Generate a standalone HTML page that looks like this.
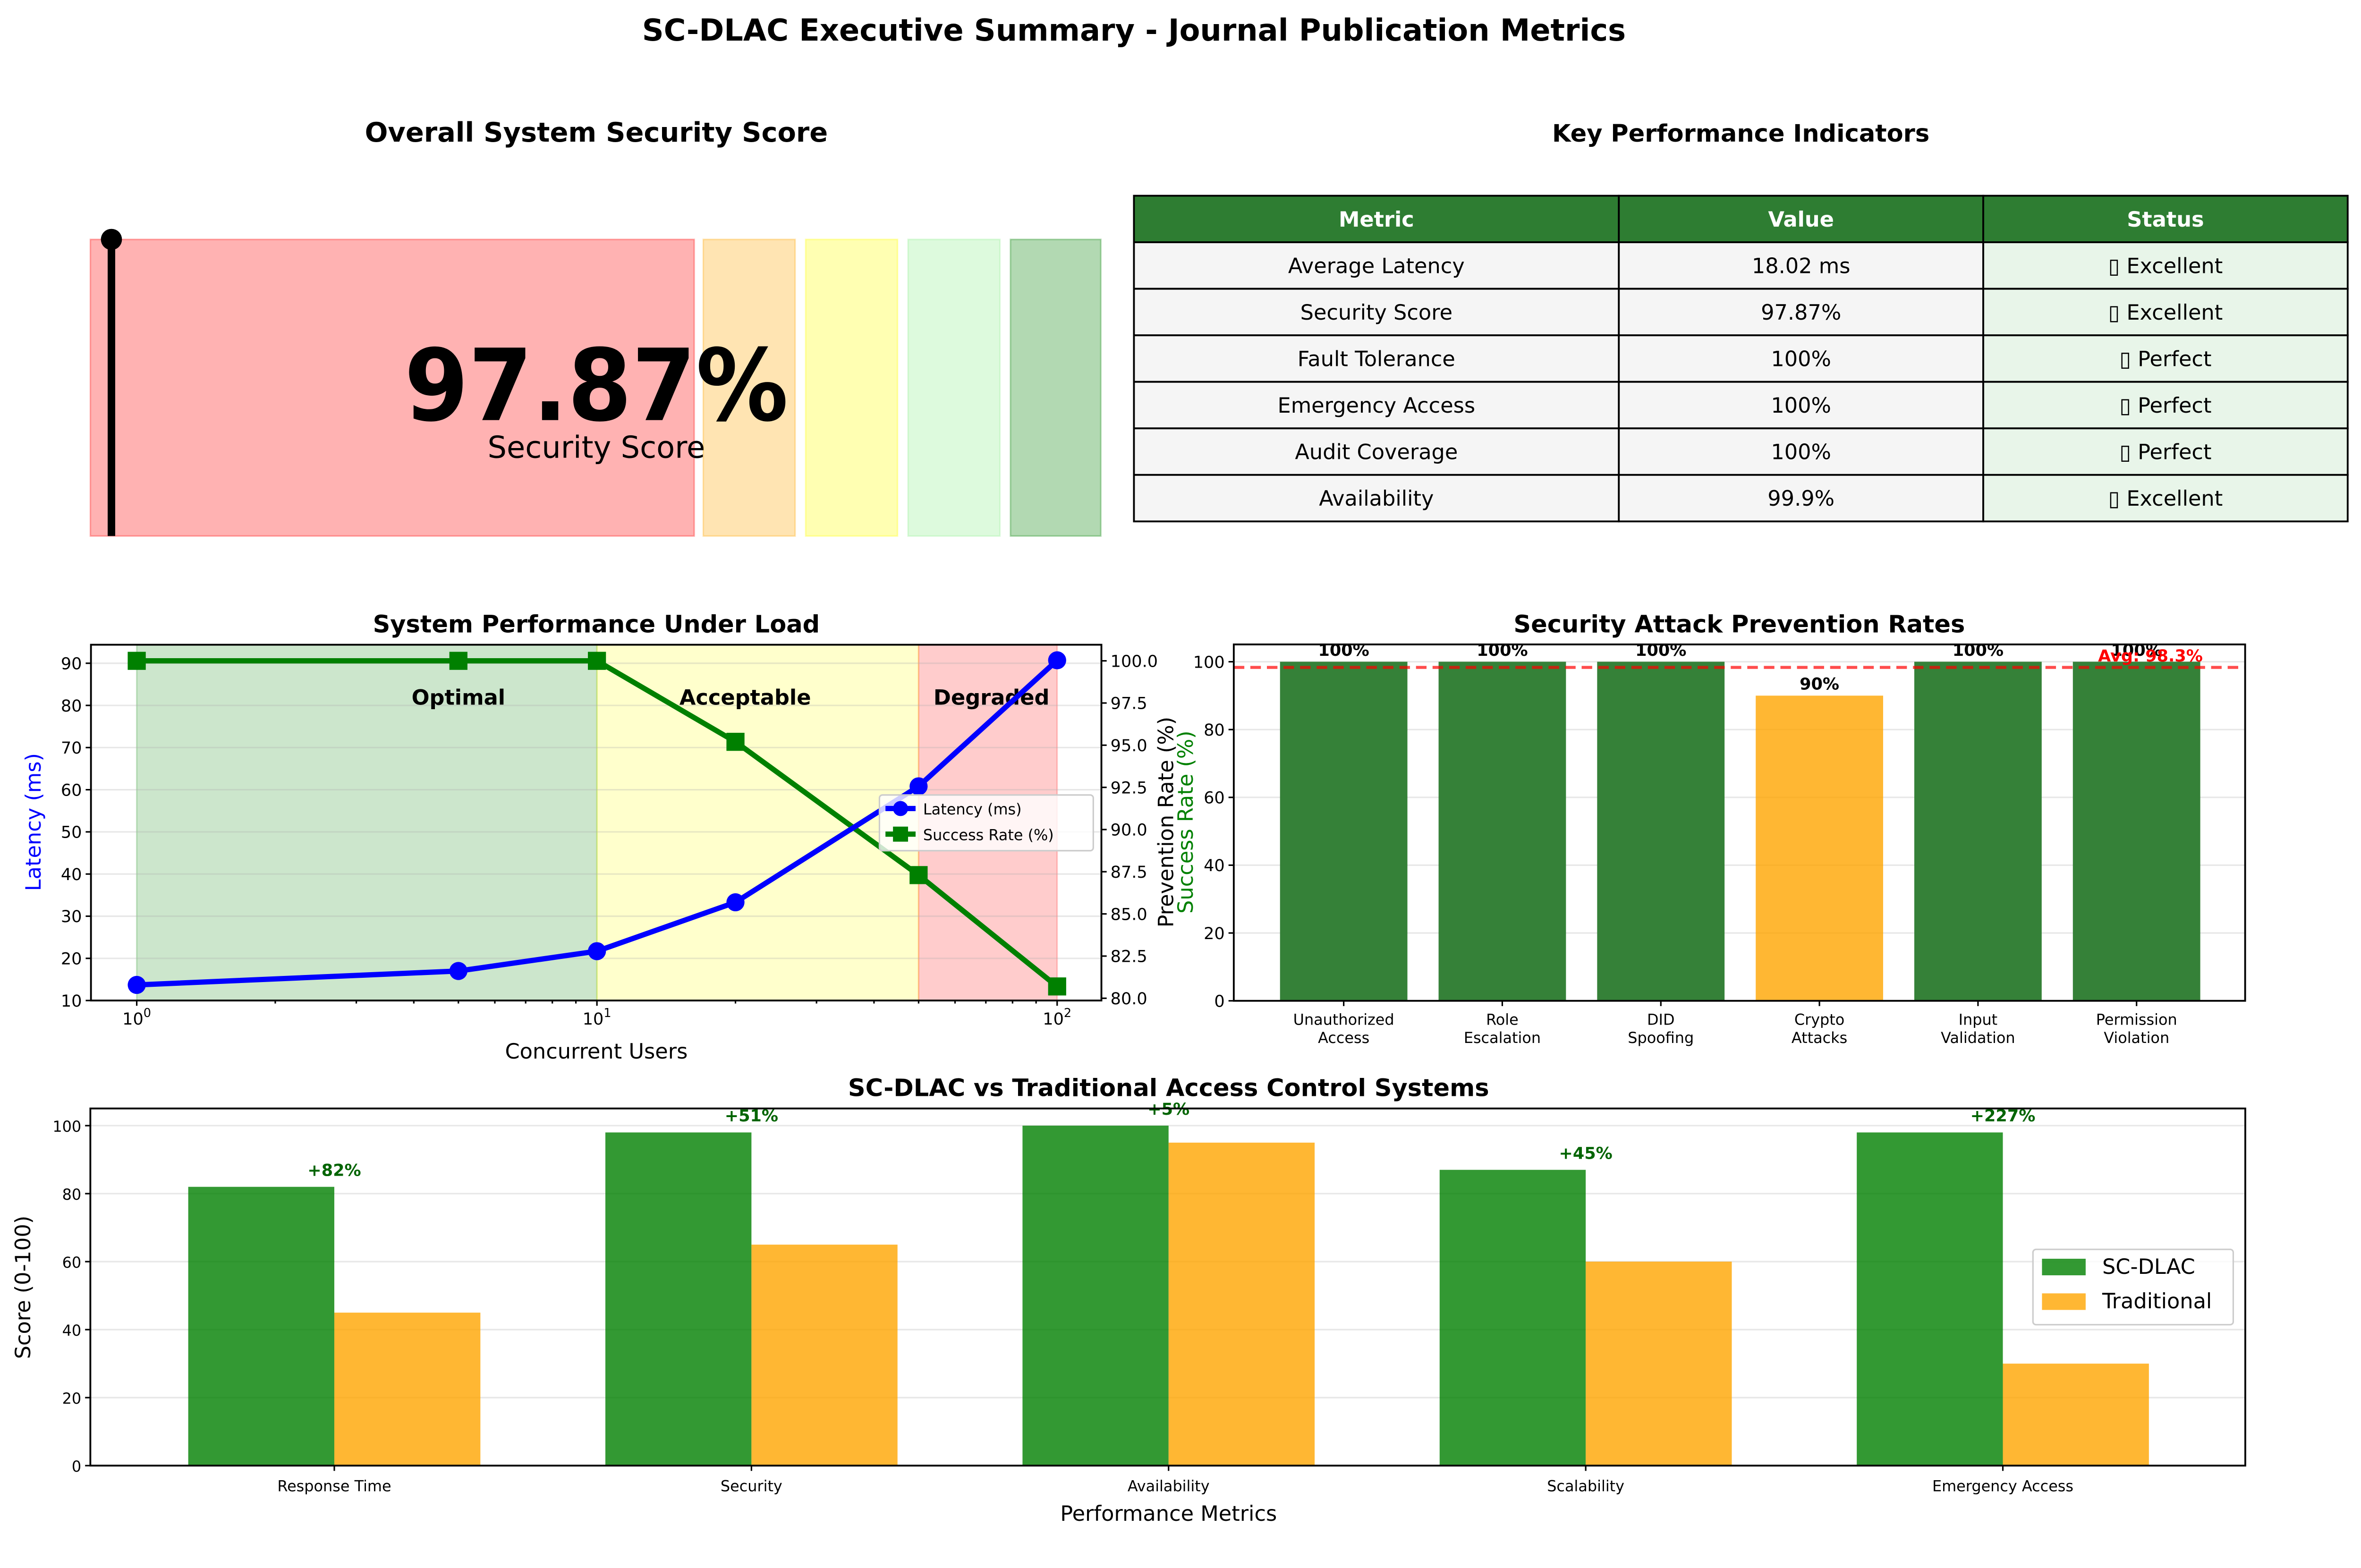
<!DOCTYPE html>
<html><head><meta charset="utf-8">
<style>
html,body{margin:0;padding:0;background:#fff;}
svg{display:block;font-family:"DejaVu Sans","Liberation Sans",sans-serif;}
</style></head>
<body>
<svg id="fig" width="5093" height="3321" viewBox="0 0 1597 1041.4" preserveAspectRatio="none" xmlns="http://www.w3.org/2000/svg">
<rect width="1597" height="1041.4" fill="#fff"/>
<text x="753" y="27" text-anchor="middle" font-size="20" font-weight="bold">SC-DLAC Executive Summary - Journal Publication Metrics</text>

<g>
<text x="396" y="94" text-anchor="middle" font-size="18" font-weight="bold">Overall System Security Score</text>
<rect x="60" y="159" width="401" height="197" fill="#ff0000" fill-opacity="0.3" stroke="#ff0000" stroke-opacity="0.3"/>
<rect x="467" y="159" width="61" height="197" fill="#ffa500" fill-opacity="0.3" stroke="#ffa500" stroke-opacity="0.3"/>
<rect x="535" y="159" width="61" height="197" fill="#ffff00" fill-opacity="0.3" stroke="#ffff00" stroke-opacity="0.3"/>
<rect x="603" y="159" width="61" height="197" fill="#90ee90" fill-opacity="0.3" stroke="#90ee90" stroke-opacity="0.3"/>
<rect x="671" y="159" width="60" height="197" fill="#008000" fill-opacity="0.3" stroke="#008000" stroke-opacity="0.3"/>
<line x1="74" y1="159" x2="74" y2="356" stroke="#000" stroke-width="5"/>
<circle cx="74" cy="159" r="7" fill="#000"/>
<text x="396" y="304" text-anchor="middle" font-size="66" font-weight="bold" textLength="255" lengthAdjust="spacingAndGlyphs" dy="-25">97.87%</text>
<text x="396" y="304" text-anchor="middle" font-size="20">Security Score</text>
</g>

<g id="kpi">
<text x="1156" y="94" text-anchor="middle" font-size="16" font-weight="bold">Key Performance Indicators</text>
</g>

<g id="perf"></g>
<g id="sec"></g>
<g id="cmp"></g>
</svg>
<script>
const kpiMetrics = ["Average Latency","Security Score","Fault Tolerance","Emergency Access","Audit Coverage","Availability"];
const kpiValues = ["18.02 ms","97.87%","100%","100%","100%","99.9%"];
const kpiStatus = ["Excellent","Excellent","Perfect","Perfect","Perfect","Excellent"];

const users = [1,5,10,20,50,100];
const latency = [13.7,17.0,21.7,33.3,60.8,90.7];
const successRate = [100,100,100,95.2,87.3,80.7];
const latencyTicks = [10,20,30,40,50,60,70,80,90];
const successTicks = [80.0,82.5,85.0,87.5,90.0,92.5,95.0,97.5,100.0];

const attackCats = [["Unauthorized","Access"],["Role","Escalation"],["DID","Spoofing"],["Crypto","Attacks"],["Input","Validation"],["Permission","Violation"]];
const preventionRates = [100,100,100,90,100,100];
const preventionTicks = [0,20,40,60,80,100];

const cmpCats = ["Response Time","Security","Availability","Scalability","Emergency Access"];
const scdlac = [82,98,100,87,98];
const traditional = [45,65,95,60,30];
const cmpLabels = ["+82%","+51%","+5%","+45%","+227%"];
const cmpTicks = [0,20,40,60,80,100];

const NS="http://www.w3.org/2000/svg";
function mk(parent,tag,attrs,text){const e=document.createElementNS(NS,tag);for(const k in attrs)e.setAttribute(k,attrs[k]);if(text!==undefined)e.textContent=text;parent.appendChild(e);return e;}

(function(){
 const g=document.getElementById('kpi');
 const cols=[753,1075,1317,1559]; const top=130, rh=30.9;
 const hdr=["Metric","Value","Status"];
 for(let c=0;c<3;c++){
  const r=mk(g,'rect',{x:cols[c],y:top,width:cols[c+1]-cols[c],height:rh,fill:'#2e7d32',stroke:'#000','stroke-width':1.2});
  
  
  const t=mk(g,'text',{x:(cols[c]+cols[c+1])/2,y:top+rh/2+5,'text-anchor':'middle','font-size':14,'font-weight':'bold',fill:'#fff'},hdr[c]);
  
  
 }
 for(let i=0;i<kpiMetrics.length;i++){
  const y=top+rh*(i+1);
  const vals=[kpiMetrics[i],kpiValues[i],"\u25AF "+kpiStatus[i]];
  for(let c=0;c<3;c++){
   const r=mk(g,'rect',{x:cols[c],y:y,width:cols[c+1]-cols[c],height:rh,fill:c==2?'#e8f5e9':'#f5f5f5',stroke:'#000','stroke-width':1.2});
   
   
   const t=mk(g,'text',{x:(cols[c]+cols[c+1])/2,y:y+rh/2+5,'text-anchor':'middle','font-size':14},vals[c]);
   
   
  }
 }
})();

(function(){
 const g=document.getElementById('perf');
 const L=60.4,R=731.4,T=428.2,B=664.5;
 const x=v=>90.8+(Math.log10(v))*(702-90.8)/2;
 const yl=v=>664.5-(v-10)*(664.5-440.5)/80;
 const yr=v=>663-(v-80)*(663-438.9)/20;
 const t=mk(g,'text',{x:396,y:420,'text-anchor':'middle','font-size':16,'font-weight':'bold'},'System Performance Under Load');
 
 
 const zones=[[1,10,'#008000'],[10,50,'#ffff00'],[50,100,'#ff0000']];
 zones.forEach(z=>{const r=mk(g,'rect',{x:x(z[0]),y:T,width:x(z[1])-x(z[0]),height:B-T,fill:z[2],'fill-opacity':0.2,stroke:z[2],'stroke-opacity':0.2});
  
  });
 latencyTicks.forEach(v=>{
  const l=mk(g,'line',{x1:L,x2:R,y1:yl(v),y2:yl(v),stroke:'#b0b0b0','stroke-opacity':0.3});
  
  
  mk(g,'line',{x1:L-3.5,x2:L,y1:yl(v),y2:yl(v),stroke:'#000'});
  const tx=mk(g,'text',{x:L-6,y:yl(v)+4,'text-anchor':'end','font-size':11},String(v));
  
  
 });
 successTicks.forEach(v=>{
  mk(g,'line',{x1:R,x2:R+3.5,y1:yr(v),y2:yr(v),stroke:'#000'});
  const tx=mk(g,'text',{x:R+6,y:yr(v)+4,'font-size':11},v.toFixed(1));
  
  
 });
 [1,10,100].forEach((v,i)=>{
  mk(g,'line',{x1:x(v),x2:x(v),y1:B,y2:B+3.5,stroke:'#000'});
  const tx=mk(g,'text',{x:x(v),y:B+16,'text-anchor':'middle','font-size':11},'10');
  
  
  mk(tx,'tspan',{dy:-5,'font-size':8},String(i));
 });
 for(let d=1;d<=100;d*=10)for(let k=2;k<=9;k++){const v=d*k;if(v<0.8||v>130)continue;mk(g,'line',{x1:x(v),x2:x(v),y1:B,y2:B+2,stroke:'#000'});}
 [[5,'Optimal'],[21,'Acceptable'],[72,'Degraded']].forEach(a=>{
  const tx=mk(g,'text',{x:x(a[0]),y:468,'text-anchor':'middle','font-size':14,'font-weight':'bold'},a[1]);
  
  
 });
 const sp=mk(g,'polyline',{points:users.map((u,i)=>x(u)+','+yr(successRate[i])).join(' '),fill:'none',stroke:'#008000','stroke-width':3.5});
 
 
 users.forEach((u,i)=>{const m=mk(g,'rect',{x:x(u)-6,y:yr(successRate[i])-6,width:12,height:12,fill:'#008000'});
  
  });
 const lp=mk(g,'polyline',{points:users.map((u,i)=>x(u)+','+yl(latency[i])).join(' '),fill:'none',stroke:'#0000ff','stroke-width':3.5});
 
 
 users.forEach((u,i)=>{const m=mk(g,'circle',{cx:x(u),cy:yl(latency[i]),r:6,fill:'#0000ff'});
  
  });
 mk(g,'rect',{x:L,y:T,width:R-L,height:B-T,fill:'none',stroke:'#000','stroke-width':1.2});
 const yt=mk(g,'text',{x:0,y:0,transform:'translate(27,546) rotate(-90)','text-anchor':'middle','font-size':14,fill:'#0000ff'},'Latency (ms)');
 
 
 const yt2=mk(g,'text',{x:0,y:0,transform:'translate(792,546) rotate(-90)','text-anchor':'middle','font-size':14,fill:'#008000'},'Success Rate (%)');
 
 
 const xt=mk(g,'text',{x:396,y:703,'text-anchor':'middle','font-size':14},'Concurrent Users');
 
 
 const lg=mk(g,'g',{});
 
 
 mk(lg,'rect',{x:584,y:528,width:142,height:37,fill:'#fff','fill-opacity':0.8,stroke:'#ccc',rx:2});
 mk(lg,'line',{x1:588,x2:608,y1:537,y2:537,stroke:'#0000ff','stroke-width':3.5});
 mk(lg,'circle',{cx:598,cy:537,r:5,fill:'#0000ff'});
 mk(lg,'text',{x:613,y:541,'font-size':10},'Latency (ms)');
 mk(lg,'line',{x1:588,x2:608,y1:554,y2:554,stroke:'#008000','stroke-width':3.5});
 mk(lg,'rect',{x:593,y:549,width:10,height:10,fill:'#008000'});
 mk(lg,'text',{x:613,y:558,'font-size':10},'Success Rate (%)');
})();

(function(){
 const g=document.getElementById('sec');
 const L=819.3,R=1490.9,T=428,B=664.7;
 const x=i=>892.3+i*105.3;
 const y=v=>B-v*(B-439.5)/100;
 const t=mk(g,'text',{x:1155,y:420,'text-anchor':'middle','font-size':16,'font-weight':'bold'},'Security Attack Prevention Rates');
 
 
 preventionTicks.forEach(v=>{
  const l=mk(g,'line',{x1:L,x2:R,y1:y(v),y2:y(v),stroke:'#b0b0b0','stroke-opacity':0.3});
  
  
  mk(g,'line',{x1:L-3.5,x2:L,y1:y(v),y2:y(v),stroke:'#000'});
  const tx=mk(g,'text',{x:L-6,y:y(v)+4,'text-anchor':'end','font-size':11},String(v));
  
  
 });
 preventionRates.forEach((v,i)=>{
  const b=mk(g,'rect',{x:x(i)-42.3,y:y(v),width:84.6,height:B-y(v),fill:v>=95?'#2e7d32':'#ffa500','fill-opacity':v>=95?0.97:0.8});
  
  
  const tx=mk(g,'text',{x:x(i),y:y(v)-4,'text-anchor':'middle','font-size':11,'font-weight':'bold'},v+'%');
  
  
  mk(g,'line',{x1:x(i),x2:x(i),y1:B,y2:B+3.5,stroke:'#000'});
  attackCats[i].forEach((s,k)=>{const c=mk(g,'text',{x:x(i),y:B+16+k*12,'text-anchor':'middle','font-size':10},s);
   
   });
 });
 const avg=preventionRates.reduce((a,b)=>a+b,0)/preventionRates.length;
 const al=mk(g,'line',{x1:L,x2:R,y1:y(avg),y2:y(avg),stroke:'#ff0000','stroke-opacity':0.7,'stroke-width':2,'stroke-dasharray':'7,4'});
 
 
 const at=mk(g,'text',{x:1428,y:y(avg)-4,'text-anchor':'middle','font-size':11,'font-weight':'bold',fill:'#ff0000'},'Avg: '+avg.toFixed(1)+'%');
 
 
 mk(g,'rect',{x:L,y:T,width:R-L,height:B-T,fill:'none',stroke:'#000','stroke-width':1.2});
 const yt=mk(g,'text',{x:0,y:0,transform:'translate(779,546) rotate(-90)','text-anchor':'middle','font-size':14},'Prevention Rate (%)');
 
 
})();

(function(){
 const g=document.getElementById('cmp');
 const L=60,R=1491,T=736.2,B=973.4;
 const x=i=>222+i*277;
 const y=v=>B-v*(B-747.6)/100;
 const t=mk(g,'text',{x:776,y:728,'text-anchor':'middle','font-size':16,'font-weight':'bold'},'SC-DLAC vs Traditional Access Control Systems');
 
 
 cmpTicks.forEach(v=>{
  const l=mk(g,'line',{x1:L,x2:R,y1:y(v),y2:y(v),stroke:'#b0b0b0','stroke-opacity':0.3});
  
  
  mk(g,'line',{x1:L-3.5,x2:L,y1:y(v),y2:y(v),stroke:'#000'});
  const tx=mk(g,'text',{x:L-6,y:y(v)+4,'text-anchor':'end','font-size':10},String(v));
  
  
 });
 cmpCats.forEach((c,i)=>{
  const b1=mk(g,'rect',{x:x(i)-97,y:y(scdlac[i]),width:97,height:B-y(scdlac[i]),fill:'#008000','fill-opacity':0.8});
  
  
  const b2=mk(g,'rect',{x:x(i),y:y(traditional[i]),width:97,height:B-y(traditional[i]),fill:'#ffa500','fill-opacity':0.8});
  
  
  const lb=mk(g,'text',{x:x(i),y:y(scdlac[i]+5)+4,'text-anchor':'middle','font-size':11,'font-weight':'bold',fill:'#006400'},cmpLabels[i]);
  
  
  mk(g,'line',{x1:x(i),x2:x(i),y1:B,y2:B+3.5,stroke:'#000'});
  const cl=mk(g,'text',{x:x(i),y:B+17,'text-anchor':'middle','font-size':10},c);
  
  
 });
 mk(g,'rect',{x:L,y:T,width:R-L,height:B-T,fill:'none',stroke:'#000','stroke-width':1.2});
 const yt=mk(g,'text',{x:0,y:0,transform:'translate(20,855) rotate(-90)','text-anchor':'middle','font-size':14},'Score (0-100)');
 
 
 const xt=mk(g,'text',{x:776,y:1010,'text-anchor':'middle','font-size':14},'Performance Metrics');
 
 
 const lg=mk(g,'g',{});
 
 
 mk(lg,'rect',{x:1350,y:829.8,width:133,height:50,fill:'#fff','fill-opacity':0.8,stroke:'#ccc',rx:2});
 mk(lg,'rect',{x:1356,y:836,width:29,height:11,fill:'#008000','fill-opacity':0.8});
 mk(lg,'text',{x:1396,y:846,'font-size':14},'SC-DLAC');
 mk(lg,'rect',{x:1356,y:859,width:29,height:11,fill:'#ffa500','fill-opacity':0.8});
 mk(lg,'text',{x:1396,y:869,'font-size':14},'Traditional');
})();
</script>
</body></html>
